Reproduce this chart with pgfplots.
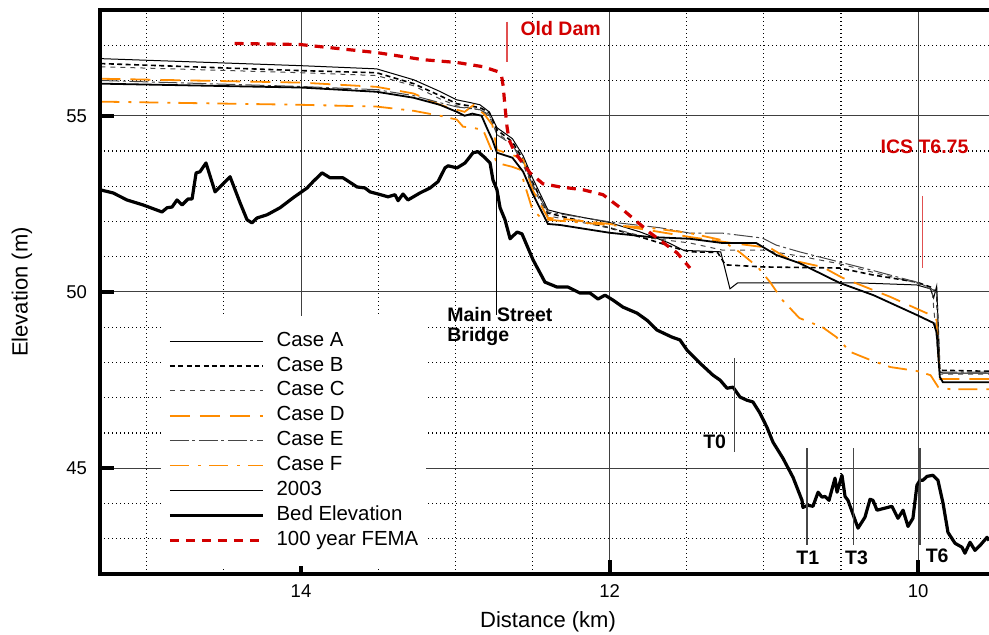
\documentclass[border=0pt]{standalone}
\usepackage{pgfplots}
\pgfplotsset{compat=1.18}
\usepackage{fontspec}
\setmainfont{Liberation Sans}
\definecolor{dorange}{RGB}{255,140,0}
\definecolor{femared}{RGB}{210,0,0}
\definecolor{mkred}{RGB}{225,80,80}
\definecolor{dgray}{RGB}{70,70,70}
\begin{document}
\begin{tikzpicture}
\begin{axis}[
  at={(0,0)}, anchor=south west,
  scale only axis, width=444.5pt, height=282pt,
  x dir=reverse,
  xmin=9.541, xmax=15.303, ymin=42, ymax=58,
  xtick={10,12,14}, ytick={45,50,55},
  minor xtick={10.5,11,11.5,12.5,13,13.5,14.5,15},
  minor ytick={43,44,46,47,48,49,51,52,53,54,56,57},
  grid=both,
  major grid style={line width=0.5pt, draw=black!75},
  minor grid style={line width=0.6pt, draw=black, dash pattern=on 0.7pt off 1.3pt},
  axis line style={draw=none},
  tick align=inside,
  major tick length=7pt,
  minor tick length=0pt,
  major tick style={line width=2pt, black},
  xtick pos=left, ytick pos=left,
  /pgf/number format/assume math mode=true,
  ticklabel style={font=\fontsize{9.25}{11}\selectfont},
  xticklabel style={yshift=-2pt},
  yticklabel style={xshift=-3pt},
  xlabel={Distance (km)}, ylabel={Elevation (m)},
  label style={font=\fontsize{11}{13}\selectfont},
  xlabel style={at={(axis description cs:0.504,-0.0851)}, anchor=center},
  ylabel style={at={(axis description cs:-0.0877,0.5)}, anchor=center, rotate=0},
  clip mode=individual,
  legend style={at={(axis description cs:0.0686,0.459)}, anchor=north west,
    draw=none, fill=white, font=\fontsize{10.2}{12}\selectfont,
    inner xsep=3.5pt, inner ysep=7.5pt, row sep=1.95pt,
    nodes={inner sep=0.5pt, text height=7.3pt, text depth=2.2pt},
    /tikz/every odd column/.append style={column sep=5.5pt}},
  legend cell align=left,
  legend image code/.code={\draw[#1] (0pt,0pt) -- (46.5pt,0pt);},
]
% Case A
\addplot[no markers, black, line width=0.5pt] coordinates {
(15.30,56.62) (14.0,56.42) (13.51,56.33) (13.27,56.02) (13.10,55.69) (12.99,55.45) (12.90,55.37) (12.84,55.31) (12.78,55.11) (12.73,54.66) (12.63,54.35) (12.56,53.86) (12.50,53.24) (12.40,52.33) (12.32,52.24) (12.00,51.97) (11.80,51.70) (11.62,51.40) (11.52,51.18) (11.28,51.14) (11.22,50.09) (11.17,50.26) (11.01,50.26) (10.40,50.26) (10.01,50.20) (9.92,50.09) (9.90,49.83) (9.88,50.17) (9.86,47.73) (9.84,47.70) (9.54,47.70)};
\addlegendentry{Case A}
% Case B
\addplot[no markers, black, line width=0.8pt, dash pattern=on 2.5pt off 1.7pt] coordinates {
(15.30,56.48) (14.0,56.28) (13.51,56.22) (13.27,55.91) (13.10,55.57) (12.99,55.34) (12.84,55.23) (12.78,55.09) (12.73,54.60) (12.63,54.26) (12.56,53.75) (12.50,53.12) (12.40,52.24) (12.00,51.82) (11.74,51.48) (11.55,51.22) (11.48,51.14) (11.30,51.12) (11.25,50.77) (11.00,50.71) (10.51,50.68) (10.29,50.48) (10.01,50.28) (9.92,50.14) (9.88,49.98) (9.86,47.78) (9.54,47.75)};
\addlegendentry{Case B}
% Case C
\addplot[no markers, dgray, line width=0.5pt, dash pattern=on 2.5pt off 2.5pt] coordinates {
(15.30,56.39) (14.0,56.22) (13.51,56.14) (13.27,55.85) (13.10,55.48) (12.99,55.28) (12.84,55.17) (12.78,54.97) (12.73,54.52) (12.63,54.18) (12.56,53.61) (12.50,53.0) (12.40,52.16) (12.00,51.82) (11.74,51.53) (11.48,51.39) (11.27,51.19) (11.01,51.19) (10.77,51.02) (10.51,50.80) (10.25,50.51) (10.01,50.26) (9.91,50.06) (9.86,47.67) (9.54,47.67)};
\addlegendentry{Case C}
% Case D
\addplot[no markers, dorange, line width=0.9pt, dash pattern=on 10pt off 5pt] coordinates {
(15.30,56.05) (14.0,55.94) (13.51,55.82) (13.27,55.63) (13.10,55.31) (12.99,55.17) (12.94,55.11) (12.88,55.31) (12.81,55.03) (12.76,54.74) (12.73,54.03) (12.63,53.89) (12.56,53.75) (12.50,52.90) (12.40,52.10) (12.32,52.08) (12.00,51.93) (11.74,51.75) (11.48,51.56) (11.16,51.36) (10.96,51.25) (10.83,50.91) (10.62,50.71) (10.49,50.40) (10.18,49.86) (9.92,49.35) (9.88,49.20) (9.86,47.53) (9.54,47.53)};
\addlegendentry{Case D}
% Case E
\addplot[no markers, dgray, line width=0.5pt, dash pattern=on 9.5pt off 1.75pt on 1.5pt off 1.75pt] coordinates {
(15.30,56.00) (14.0,55.83) (13.51,55.74) (13.27,55.57) (13.10,55.37) (12.99,55.25) (12.84,55.17) (12.78,55.03) (12.73,54.46) (12.63,54.18) (12.56,53.66) (12.50,53.06) (12.40,52.27) (12.00,51.99) (11.67,51.82) (11.48,51.67) (11.27,51.67) (11.01,51.53) (10.92,51.33) (10.77,51.14) (10.51,50.85) (10.31,50.63) (10.01,50.28) (9.92,50.11) (9.88,49.97) (9.86,47.73) (9.54,47.73)};
\addlegendentry{Case E}
% Case F
\addplot[no markers, dorange, line width=0.9pt, dash pattern=on 9.5pt off 4.5pt on 1.5pt off 4pt] coordinates {
(15.30,55.40) (14.0,55.31) (13.51,55.26) (13.27,55.14) (13.10,55.0) (12.99,54.89) (12.95,54.69) (12.89,54.66) (12.82,54.60) (12.78,54.18) (12.73,53.66) (12.63,53.55) (12.58,53.47) (12.54,52.90) (12.50,52.33) (12.45,52.13) (12.40,52.05) (12.00,51.90) (11.74,51.82) (11.48,51.67) (11.28,51.48) (11.16,51.14) (11.04,50.71) (10.96,50.28) (10.88,49.77) (10.77,49.26) (10.62,49.0) (10.53,48.72) (10.44,48.30) (10.31,48.07) (10.18,47.87) (10.01,47.76) (9.92,47.64) (9.87,47.30) (9.79,47.24) (9.54,47.24)};
\addlegendentry{Case F}
% 2003
\addplot[no markers, black, line width=0.9pt] coordinates {
(15.30,55.91) (14.0,55.80) (13.51,55.68) (13.27,55.51) (13.10,55.31) (12.99,55.11) (12.94,55.0) (12.89,55.06) (12.83,55.0) (12.79,54.60) (12.76,54.32) (12.73,53.95) (12.63,53.81) (12.56,53.41) (12.50,52.80) (12.40,51.93) (12.32,51.90) (12.00,51.68) (11.74,51.56) (11.48,51.51) (11.27,51.39) (11.05,51.39) (10.92,51.05) (10.77,50.82) (10.51,50.26) (10.29,49.91) (10.01,49.35) (9.90,49.12) (9.88,48.84) (9.86,47.59) (9.84,47.44) (9.54,47.44)};
\addlegendentry{2003}
% Bed elevation
\addplot[no markers, black, line width=1.6pt, line join=round] coordinates {
(15.303,52.90) (15.218,52.81) (15.128,52.61) (15.024,52.47) (14.901,52.27) (14.868,52.39) (14.836,52.41) (14.804,52.61) (14.771,52.47) (14.732,52.64) (14.706,52.64) (14.680,53.38) (14.655,53.41) (14.616,53.66) (14.557,52.84) (14.460,53.27) (14.395,52.53) (14.350,52.05) (14.318,51.96) (14.285,52.10) (14.220,52.19) (14.136,52.39) (14.052,52.67) (13.961,52.95) (13.922,53.13) (13.864,53.38) (13.812,53.24) (13.728,53.24) (13.637,52.98) (13.585,52.95) (13.553,52.84) (13.501,52.78) (13.436,52.70) (13.391,52.76) (13.371,52.59) (13.339,52.78) (13.307,52.61) (13.229,52.81) (13.164,52.95) (13.112,53.13) (13.067,53.52) (13.047,53.58) (12.989,53.52) (12.937,53.66) (12.885,53.95) (12.853,53.98) (12.808,53.81) (12.775,53.66) (12.756,53.18) (12.730,52.90) (12.710,52.39) (12.678,52.05) (12.645,51.51) (12.600,51.70) (12.568,51.65) (12.496,50.91) (12.419,50.28) (12.341,50.14) (12.270,50.14) (12.192,49.97) (12.127,49.97) (12.075,49.80) (12.030,49.91) (11.978,49.77) (11.913,49.57) (11.822,49.40) (11.758,49.20) (11.693,48.92) (11.596,48.72) (11.544,48.64) (11.498,48.35) (11.414,47.98) (11.330,47.64) (11.284,47.50) (11.239,47.27) (11.200,47.30) (11.155,47.02) (11.110,46.93) (11.071,46.88) (11.025,46.56) (10.980,46.16) (10.941,45.74) (10.876,45.28) (10.811,44.74) (10.753,44.09) (10.747,43.89) (10.714,43.95) (10.682,43.92) (10.649,44.32) (10.623,44.18) (10.604,44.20) (10.578,44.09) (10.539,44.72) (10.526,44.32) (10.494,44.80) (10.474,44.20) (10.455,44.09) (10.390,43.30) (10.345,43.61) (10.312,44.12) (10.293,44.09) (10.267,43.81) (10.170,43.92) (10.131,43.58) (10.098,43.81) (10.066,43.35) (10.034,43.58) (10.008,44.52) (9.988,44.66) (9.969,44.66) (9.943,44.77) (9.904,44.80) (9.872,44.66) (9.839,44.01) (9.807,43.18) (9.761,42.87) (9.716,42.76) (9.697,42.59) (9.664,42.90) (9.632,42.67) (9.599,42.81) (9.554,43.04) (9.541,42.95)};
\addlegendentry{Bed Elevation}
% FEMA
\addplot[no markers, femared, line width=1.6pt, dash pattern=on 4.5pt off 3.5pt] coordinates {
(14.43,57.05) (14.006,57.02) (13.507,56.79) (13.209,56.59) (12.989,56.51) (12.820,56.39) (12.723,56.25) (12.70,56.12) (12.69,55.85) (12.678,55.26) (12.665,54.69) (12.652,54.32) (12.613,53.95) (12.516,53.38) (12.432,53.07) (12.321,52.98) (12.172,52.90) (12.043,52.76) (11.913,52.33) (11.738,51.68) (11.563,51.11) (11.479,50.68)};
\addlegendentry{100 year FEMA}
% marker lines
\addplot[forget plot, no markers, black, line width=0.5pt] coordinates {(12.73,54.6) (12.73,49.35)};
\addplot[forget plot, no markers, mkred, line width=0.6pt] coordinates {(12.665,57.67) (12.665,56.53)};
\addplot[forget plot, no markers, mkred, line width=0.6pt] coordinates {(9.97,52.73) (9.97,50.68)};
\addplot[forget plot, no markers, dgray, line width=0.6pt] coordinates {(11.19,48.13) (11.19,45.45)};
\addplot[forget plot, no markers, dgray, line width=0.6pt] coordinates {(10.72,45.57) (10.72,42.81)};
\addplot[forget plot, no markers, dgray, line width=0.6pt] coordinates {(10.42,45.57) (10.42,42.81)};
\addplot[forget plot, no markers, dgray, line width=0.6pt] coordinates {(9.988,45.57) (9.988,42.81)};
% labels
\node[font=\fontsize{9.75}{10}\selectfont\bfseries, text=femared, anchor=west, inner sep=0pt] at (axis cs:12.58,57.46) {Old Dam};
\node[font=\fontsize{9.75}{10}\selectfont\bfseries, text=femared, anchor=west, inner sep=0pt] at (axis cs:10.246,54.11) {ICS T6.75};
\node[font=\fontsize{9.75}{10}\selectfont\bfseries, anchor=north west, align=left, inner sep=0pt] at (axis cs:13.054,49.57) {Main Street\\Bridge};
\node[font=\fontsize{9.75}{10}\selectfont\bfseries, inner sep=0pt] at (axis cs:11.319,45.74) {T0};
\node[font=\fontsize{9.75}{10}\selectfont\bfseries, inner sep=0pt] at (axis cs:10.716,42.46) {T1};
\node[font=\fontsize{9.75}{10}\selectfont\bfseries, inner sep=0pt] at (axis cs:10.40,42.47) {T3};
\node[font=\fontsize{9.75}{10}\selectfont\bfseries, inner sep=0pt] at (axis cs:9.877,42.53) {T6};
% frame
\draw[line width=2pt, line cap=butt] (rel axis cs:1,1) -- (rel axis cs:0,1) -- (rel axis cs:0,0) -- (rel axis cs:1,0);
\end{axis}
\pgfresetboundingbox
\path (-50pt,-30.5pt) rectangle (444.5pt,287pt);
\end{tikzpicture}
\end{document}
